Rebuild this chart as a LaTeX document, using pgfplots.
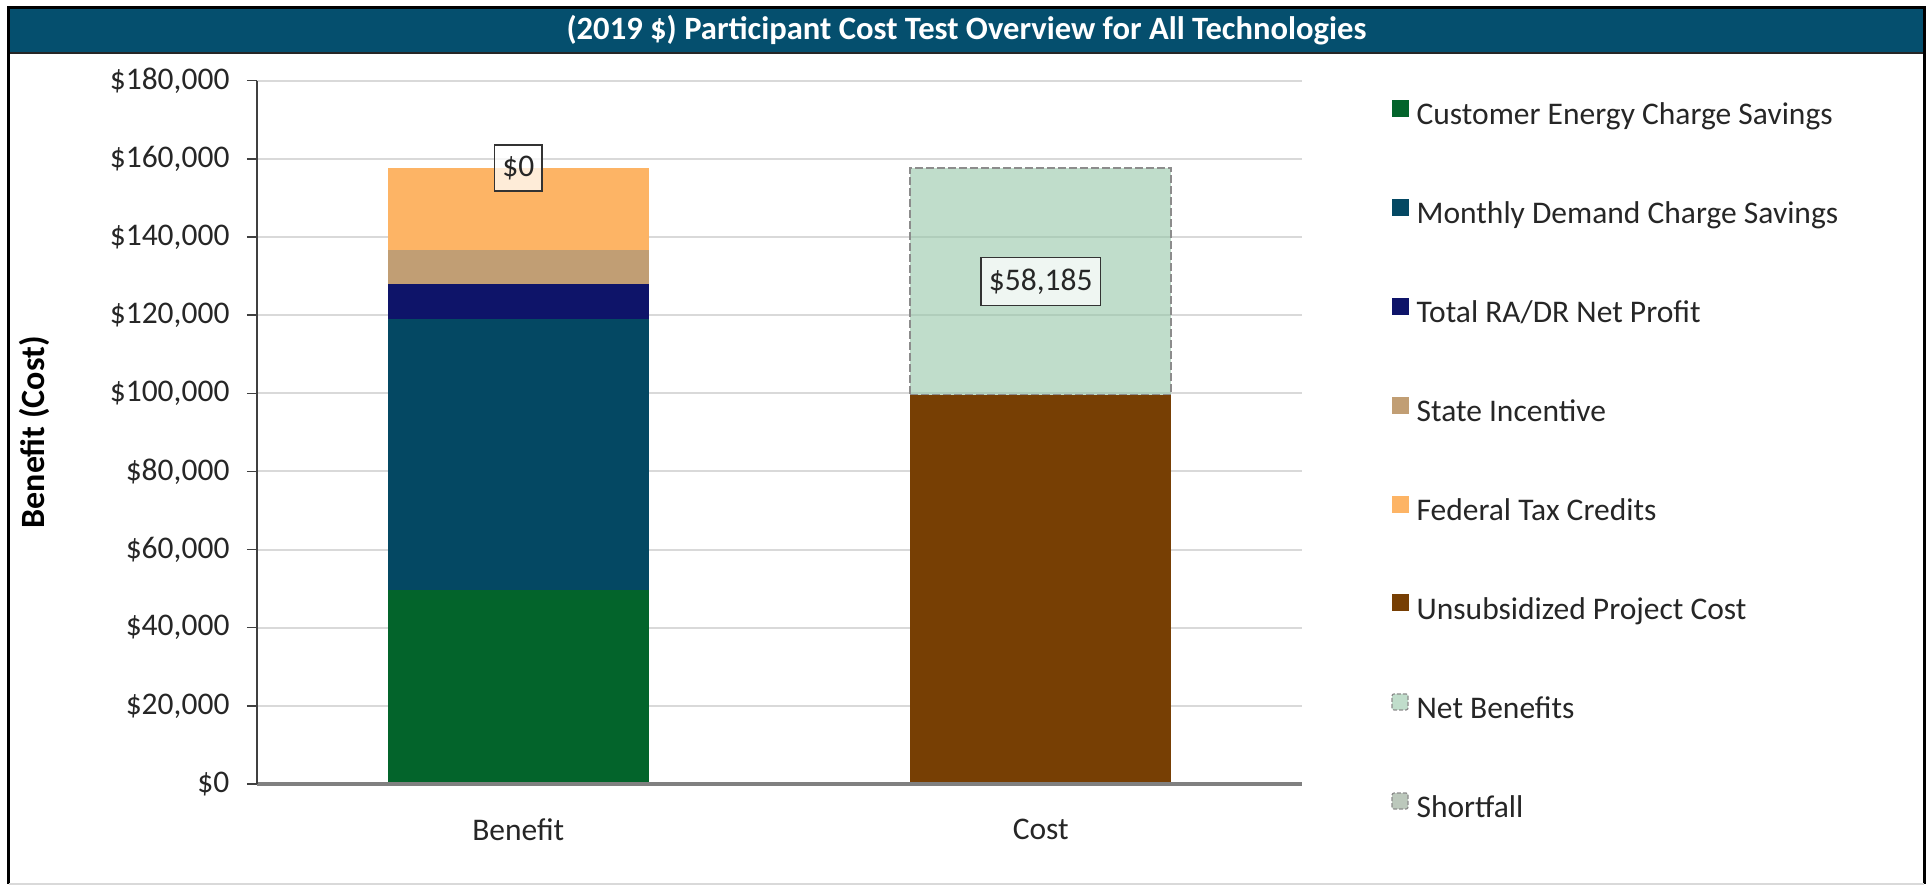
\documentclass[border=0pt]{standalone}
\usepackage{pgfplots}
\pgfplotsset{compat=1.18}
\usepackage{fontspec}
\setmainfont{Carlito}
\definecolor{titlebar}{HTML}{054F6E}
\definecolor{cgreen}{HTML}{03642B}
\definecolor{cblue}{HTML}{044863}
\definecolor{cnavy}{HTML}{0E1469}
\definecolor{ctan}{HTML}{C19E74}
\definecolor{corange}{HTML}{FDB465}
\definecolor{cbrown}{HTML}{773F04}
\definecolor{cnet}{HTML}{96C6A8}
\definecolor{cnetleg}{HTML}{C0DDCB}
\definecolor{cshort}{HTML}{BCC8BC}
\definecolor{cgrid}{HTML}{D9D9D9}
\definecolor{ctext}{HTML}{262626}
\newcommand\fs{\fontsize{15.75pt}{19pt}\selectfont}
\tikzset{lblstyle/.style={font=\fs, text=ctext, solid,
      inner xsep=4pt, inner ysep=5.5pt, draw=black!80, line width=0.75pt,
      fill=white, fill opacity=0.75, text opacity=1, draw opacity=1}}
\pgfplotsset{
  base/.style={
    scale only axis, width=522.5pt, height=351.65pt,
    at={(0pt,0pt)}, anchor=south west,
    xmin=-0.5, xmax=1.5, ymin=0, ymax=180000,
    xtick={0,1}, ytick={0,20000,...,180000},
    scaled y ticks=false,
    /pgf/number format/assume math mode=true,
  },
  lbl/.style={
    nodes near coords={\$\pgfmathprintnumber[fixed,precision=0,1000 sep={,}]{\pgfplotspointmeta}},
    point meta=explicit,
    nodes near coords align={center},
    every node near coord/.append style={lblstyle},
  },
}
\begin{document}
\begin{tikzpicture}
\path (-128.5pt,-51pt) rectangle (836pt,392pt);
% frame and title bar
\fill[titlebar] (-124pt,365.5pt) rectangle (833.5pt,388pt);
\draw[black!85, line width=1pt] (-124pt,365.5pt) -- (833.5pt,365.5pt);
\draw[black, line width=1.5pt] (-124pt,-50pt) -- (-124pt,388pt) -- (833.5pt,388pt) -- (833.5pt,-50pt);
\draw[black!15, line width=1pt] (-124pt,-50pt) -- (833.5pt,-50pt);
\node[text=white, font=\bfseries\fontsize{16.3pt}{19pt}\selectfont] at (354.75pt,376.75pt)
  {(2019 \$) Participant Cost Test Overview for All Technologies};

% Axis A: grid and Benefit stack
\begin{axis}[base, ybar stacked, bar width=0.5,
  axis line style={draw=none}, major tick style={draw=none},
  xticklabels={}, yticklabels={},
  ymajorgrids, grid style={cgrid, line width=1pt},
]
\addplot[forget plot, fill=cgreen, draw=none] coordinates {(0,49700)};
\addplot[forget plot, fill=cblue, draw=none] coordinates {(0,69300)};
\addplot[forget plot, fill=cnavy, draw=none] coordinates {(0,8900)};
\addplot[forget plot, fill=ctan, draw=none] coordinates {(0,8800)};
\addplot[forget plot, fill=corange, draw=none] coordinates {(0,21000)};
\end{axis}

% Axis B: Cost stack, axes, labels, legend
\begin{axis}[base, ybar stacked, bar width=0.5,
  axis on top,
  axis lines*=left,
  y axis line style={draw=black!75, line width=0.75pt},
  x axis line style={draw=black!50, line width=1.75pt},
  tick align=outside, major tick length=5pt,
  ytick style={draw=black!75, line width=0.75pt},
  xtick style={draw=none},
  tick label style={font=\fs, text=ctext},
  yticklabel={\$\pgfmathprintnumber[fixed,precision=0,1000 sep={,}]{\tick}},
  yticklabel style={xshift=-5.25pt},
  xticklabels={Benefit, Cost},
  xticklabel style={yshift=-9pt},
  ylabel={Benefit (Cost)},
  ylabel style={at={(rel axis cs:-0.2134,0.5)}, anchor=center,
    font=\bfseries\fontsize{17pt}{20pt}\selectfont, text=black},
  legend cell align=left,
  legend style={at={(rel axis cs:1.0852,0.9732)}, anchor=north west,
    draw=none, fill=none, inner sep=0pt, row sep=34pt, column sep=4pt,
    nodes={inner sep=0pt, text height=10.5pt, text depth=3pt},
    font=\fs, text=ctext},
]
\addplot[forget plot, fill=cbrown, draw=none] coordinates {(1,99515)};
\addplot[forget plot, fill=cnet, fill opacity=0.6, draw=black!45, line width=1pt,
  dash pattern=on 4pt off 1.5pt, lbl] coordinates {(1,58185) [58185]};

\addlegendimage{legend image code/.code={\fill[cgreen] (0pt,0.5pt) rectangle (8pt,8.5pt);}}
\addlegendentry{Customer Energy Charge Savings}
\addlegendimage{legend image code/.code={\fill[cblue] (0pt,0.5pt) rectangle (8pt,8.5pt);}}
\addlegendentry{Monthly Demand Charge Savings}
\addlegendimage{legend image code/.code={\fill[cnavy] (0pt,0.5pt) rectangle (8pt,8.5pt);}}
\addlegendentry{Total RA/DR Net Profit}
\addlegendimage{legend image code/.code={\fill[ctan] (0pt,0.5pt) rectangle (8pt,8.5pt);}}
\addlegendentry{State Incentive}
\addlegendimage{legend image code/.code={\fill[corange] (0pt,0.5pt) rectangle (8pt,8.5pt);}}
\addlegendentry{Federal Tax Credits}
\addlegendimage{legend image code/.code={\fill[cbrown] (0pt,0.5pt) rectangle (8pt,8.5pt);}}
\addlegendentry{Unsubsidized Project Cost}
\addlegendimage{legend image code/.code={\draw[fill=cnetleg, draw=black!45, line width=0.6pt, dash pattern=on 2pt off 1pt, rounded corners=1pt] (0pt,0.5pt) rectangle (8pt,8.5pt);}}
\addlegendentry{Net Benefits}
\addlegendimage{legend image code/.code={\draw[fill=cshort, draw=black!45, line width=0.6pt, dash pattern=on 2pt off 1pt, rounded corners=1pt] (0pt,0.5pt) rectangle (8pt,8.5pt);}}
\addlegendentry{Shortfall}
\end{axis}

% Axis C: shortfall label ($0) at the top of the Benefit stack (157,700)
\begin{axis}[base, hide axis]
\addplot[forget plot, only marks, mark=none,
  nodes near coords={\$\pgfmathprintnumber[fixed,precision=0,1000 sep={,}]{\pgfplotspointmeta}},
  point meta=explicit,
  every node near coord/.append style={lblstyle, anchor=center}]
  coordinates {(0,157700) [0]};
\end{axis}
\end{tikzpicture}
\end{document}
